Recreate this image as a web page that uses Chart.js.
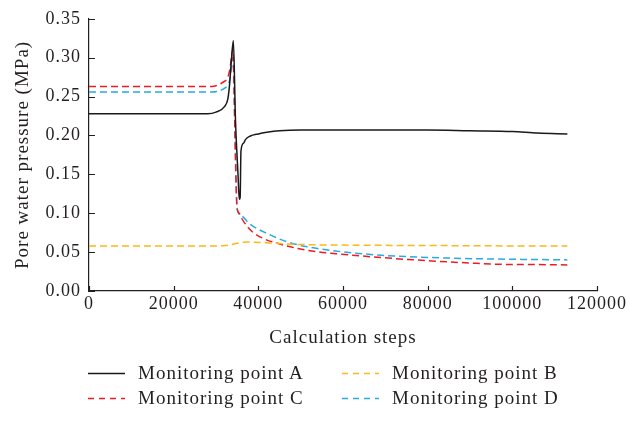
<!DOCTYPE html>
<html>
<head>
<meta charset="utf-8">
<script src="https://cdn.jsdelivr.net/npm/chart.js@4.4.1/dist/chart.umd.min.js"></script>
<style>
  html, body { margin: 0; padding: 0; background: #fff; }
  #wrap { position: relative; width: 629px; height: 430px; }
  #chart { position: absolute; left: 0; top: 0; }
  .legend { position: absolute; font-family: "Liberation Serif", serif; font-size: 19px; color: #231f20; white-space: nowrap; letter-spacing: 1px; }
  .legend .item { position: absolute; height: 24px; line-height: 24px; }
  .legend svg { position: absolute; top: 0; }
  .legend span { position: absolute; top: 0; }
</style>
</head>
<body>
<div id="wrap">
  <canvas id="chart" width="629" height="430"></canvas>
  <div class="legend" id="legend"></div>
</div>
<script>
// Pore water pressure (MPa) at four monitoring points versus calculation steps
const seriesNames = ["Monitoring point A", "Monitoring point B", "Monitoring point C", "Monitoring point D"];

const stepsA = [0, 10000, 20000, 28000, 30000, 32000, 32800, 33200, 33600, 34100, 34600, 35200, 35500, 35700, 35900, 36500, 37000, 38000, 40000, 42000, 45000, 50000, 60000, 70000, 80000, 90000, 100000, 106000, 113000];
const pressureA = [0.228, 0.228, 0.228, 0.228, 0.230, 0.237, 0.247, 0.265, 0.294, 0.322, 0.220, 0.150, 0.118, 0.120, 0.180, 0.190, 0.195, 0.199, 0.202, 0.204, 0.206, 0.207, 0.207, 0.207, 0.207, 0.206, 0.205, 0.203, 0.202];

const stepsB = [0, 10000, 20000, 30000, 32000, 33500, 35000, 37500, 40000, 45000, 50000, 60000, 80000, 100000, 113000];
const pressureB = [0.058, 0.058, 0.058, 0.058, 0.0585, 0.0595, 0.0615, 0.063, 0.0625, 0.061, 0.0598, 0.059, 0.0585, 0.058, 0.058];

const stepsC = [0, 10000, 20000, 29000, 30000, 31500, 32800, 33300, 33700, 34000, 34300, 34600, 34950, 35500, 36000, 36700, 37700, 38700, 41400, 44900, 49600, 54400, 58300, 69000, 81000, 90000, 96700, 105000, 113000];
const pressureC = [0.263, 0.263, 0.263, 0.263, 0.264, 0.268, 0.275, 0.286, 0.303, 0.311, 0.250, 0.170, 0.108, 0.100, 0.094, 0.088, 0.081, 0.0755, 0.067, 0.0607, 0.0543, 0.050, 0.048, 0.043, 0.0386, 0.036, 0.0344, 0.034, 0.0335];

const stepsD = [0, 10000, 20000, 29000, 30500, 31800, 32800, 33300, 33700, 33900, 34200, 34500, 34900, 35100, 36000, 37900, 42600, 47300, 52000, 58300, 69000, 81000, 96700, 105000, 113000];
const pressureD = [0.256, 0.256, 0.256, 0.256, 0.257, 0.260, 0.265, 0.273, 0.290, 0.300, 0.280, 0.200, 0.115, 0.103, 0.097, 0.0866, 0.0726, 0.0624, 0.0564, 0.0513, 0.046, 0.043, 0.041, 0.0405, 0.040];

const xTickValues = [0, 20000, 40000, 60000, 80000, 100000, 120000];
const yTickValues = [0.00, 0.05, 0.10, 0.15, 0.20, 0.25, 0.30, 0.35];

const axisColor = "#231f20";
const colors = { A: "#1a1a1a", B: "#fbb817", C: "#ec1c24", D: "#29abe2" };
const dash = [7, 4];
const fontFamily = "'Liberation Serif', serif";

function toPoints(xs, ys) {
  return xs.map((x, i) => ({ x: x, y: ys[i] }));
}

function lineSet(label, xs, ys, color, dashed, width) {
  return {
    label: label,
    data: toPoints(xs, ys),
    borderColor: color,
    backgroundColor: color,
    borderWidth: width,
    borderDash: dashed ? dash : [],
    pointRadius: 0,
    fill: false,
    cubicInterpolationMode: "monotone"
  };
}

// Slightly tracked-out lettering for all canvas text
const spacedText = {
  id: "spacedText",
  beforeLayout(chart) { chart.ctx.letterSpacing = "1px"; },
  beforeDraw(chart) { chart.ctx.letterSpacing = "1px"; }
};

// Short tick marks pointing into the plot area
const innerTicks = {
  id: "innerTicks",
  afterDraw(chart) {
    const { ctx, chartArea, scales } = chart;
    ctx.save();
    ctx.strokeStyle = axisColor;
    ctx.lineWidth = 1.2;
    ctx.beginPath();
    xTickValues.forEach(v => {
      const px = Math.round(scales.x.getPixelForValue(v)) + 0.5;
      ctx.moveTo(px, chartArea.bottom);
      ctx.lineTo(px, chartArea.bottom - 5);
    });
    yTickValues.forEach(v => {
      const py = Math.round(scales.y.getPixelForValue(v)) + 0.5;
      ctx.moveTo(chartArea.left, py);
      ctx.lineTo(chartArea.left + 6, py);
    });
    ctx.stroke();
    ctx.restore();
  }
};

new Chart(document.getElementById("chart"), {
  type: "line",
  data: {
    datasets: [
      lineSet(seriesNames[0], stepsA, pressureA, colors.A, false, 1.5),
      lineSet(seriesNames[1], stepsB, pressureB, colors.B, true, 1.5),
      lineSet(seriesNames[2], stepsC, pressureC, colors.C, true, 1.5),
      lineSet(seriesNames[3], stepsD, pressureD, colors.D, true, 1.5)
    ]
  },
  options: {
    responsive: false,
    animation: false,
    layout: { padding: { top: 16, right: 30, bottom: 75, left: 0 } },
    plugins: { legend: { display: false }, tooltip: { enabled: false } },
    scales: {
      x: {
        type: "linear",
        min: 0,
        max: 120000,
        afterBuildTicks(scale) { scale.ticks = xTickValues.map(v => ({ value: v })); },
        afterFit(scale) { scale.height = 64; },
        ticks: { color: axisColor, font: { family: fontFamily, size: 18 }, padding: 2, maxRotation: 0, callback: v => String(v) },
        grid: { drawOnChartArea: false, drawTicks: false },
        border: { color: axisColor, width: 1.2 },
        title: { display: true, text: "Calculation steps", color: axisColor, font: { family: fontFamily, size: 19 }, padding: { top: 0, bottom: 6 } }
      },
      y: {
        type: "linear",
        min: 0,
        max: 0.35,
        afterBuildTicks(scale) { scale.ticks = yTickValues.map(v => ({ value: v })); },
        afterFit(scale) { scale.width = 89; },
        ticks: { color: axisColor, font: { family: fontFamily, size: 18 }, padding: 8, callback: v => v.toFixed(2) },
        grid: { drawOnChartArea: false, drawTicks: false },
        border: { color: axisColor, width: 1.2 },
        title: { display: true, text: "Pore water pressure (MPa)", color: axisColor, font: { family: fontFamily, size: 19 }, padding: { top: 12, bottom: 0 } }
      }
    }
  },
  plugins: [spacedText, innerTicks]
});

// Two-column legend beneath the plot
const legendItems = [
  { name: seriesNames[0], color: colors.A, dashed: false, x: 88, y: 361 },
  { name: seriesNames[1], color: colors.B, dashed: true, x: 342, y: 361 },
  { name: seriesNames[2], color: colors.C, dashed: true, x: 88, y: 386 },
  { name: seriesNames[3], color: colors.D, dashed: true, x: 342, y: 386 }
];
const legend = document.getElementById("legend");
legendItems.forEach(it => {
  const item = document.createElement("div");
  item.className = "item";
  item.style.left = it.x + "px";
  item.style.top = it.y + "px";
  const dashAttr = it.dashed ? ' stroke-dasharray="6 5"' : "";
  item.innerHTML =
    '<svg width="38" height="24" style="left:0"><line x1="0" y1="12.5" x2="37" y2="12.5" stroke="' + it.color +
    '" stroke-width="1.5"' + dashAttr + '/></svg><span style="left:50px">' + it.name + '</span>';
  legend.appendChild(item);
});
</script>
</body>
</html>
